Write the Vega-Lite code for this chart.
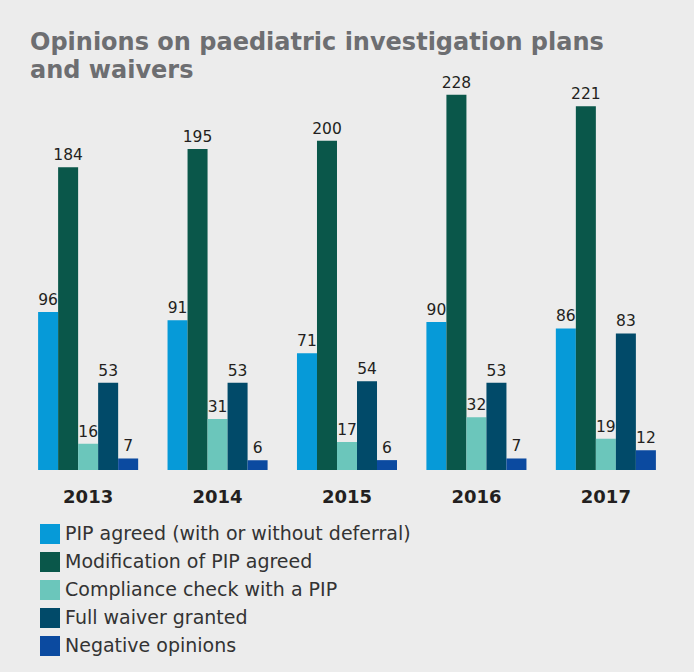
{
  "$schema": "https://vega.github.io/schema/vega-lite/v6.json",
  "width": 646,
  "height": 395,
  "autosize": {"type": "none"},
  "padding": {"left": 24, "top": 75, "right": 24, "bottom": 202},
  "background": "#ececec",
  "title": {
    "text": ["Opinions on paediatric investigation plans", "and waivers"],
    "anchor": "start",
    "frame": "group",
    "font": "DejaVu Sans",
    "fontSize": 24,
    "fontWeight": "bold",
    "color": "#6d6e71",
    "lineHeight": 28,
    "dx": 6,
    "offset": -8
  },
  "config": {"view": {"stroke": null}},
  "data": {
    "values": [
      {"year": "2013", "cat": "PIP agreed (with or without deferral)", "value": 96},
      {"year": "2013", "cat": "Modification of PIP agreed", "value": 184},
      {"year": "2013", "cat": "Compliance check with a PIP", "value": 16},
      {"year": "2013", "cat": "Full waiver granted", "value": 53},
      {"year": "2013", "cat": "Negative opinions", "value": 7},
      {"year": "2014", "cat": "PIP agreed (with or without deferral)", "value": 91},
      {"year": "2014", "cat": "Modification of PIP agreed", "value": 195},
      {"year": "2014", "cat": "Compliance check with a PIP", "value": 31},
      {"year": "2014", "cat": "Full waiver granted", "value": 53},
      {"year": "2014", "cat": "Negative opinions", "value": 6},
      {"year": "2015", "cat": "PIP agreed (with or without deferral)", "value": 71},
      {"year": "2015", "cat": "Modification of PIP agreed", "value": 200},
      {"year": "2015", "cat": "Compliance check with a PIP", "value": 17},
      {"year": "2015", "cat": "Full waiver granted", "value": 54},
      {"year": "2015", "cat": "Negative opinions", "value": 6},
      {"year": "2016", "cat": "PIP agreed (with or without deferral)", "value": 90},
      {"year": "2016", "cat": "Modification of PIP agreed", "value": 228},
      {"year": "2016", "cat": "Compliance check with a PIP", "value": 32},
      {"year": "2016", "cat": "Full waiver granted", "value": 53},
      {"year": "2016", "cat": "Negative opinions", "value": 7},
      {"year": "2017", "cat": "PIP agreed (with or without deferral)", "value": 86},
      {"year": "2017", "cat": "Modification of PIP agreed", "value": 221},
      {"year": "2017", "cat": "Compliance check with a PIP", "value": 19},
      {"year": "2017", "cat": "Full waiver granted", "value": 83},
      {"year": "2017", "cat": "Negative opinions", "value": 12}
    ]
  },
  "encoding": {
    "x": {
      "field": "year",
      "type": "nominal",
      "scale": {"paddingInner": 0.227, "paddingOuter": 0.109},
      "axis": {
        "title": null,
        "domain": false,
        "ticks": false,
        "labelAngle": 0,
        "labelFont": "DejaVu Sans",
        "labelFontSize": 18,
        "labelFontWeight": "bold",
        "labelColor": "#231f20",
        "labelPadding": 18
      }
    },
    "xOffset": {
      "field": "cat",
      "type": "nominal",
      "scale": {
        "domain": [
          "PIP agreed (with or without deferral)",
          "Modification of PIP agreed",
          "Compliance check with a PIP",
          "Full waiver granted",
          "Negative opinions"
        ],
        "paddingInner": 0,
        "paddingOuter": 0
      }
    },
    "y": {
      "field": "value",
      "type": "quantitative",
      "scale": {"domain": [0, 240], "nice": false},
      "axis": null
    }
  },
  "layer": [
    {
      "mark": {"type": "bar"},
      "encoding": {
        "color": {
          "field": "cat",
          "type": "nominal",
          "scale": {
            "domain": [
              "PIP agreed (with or without deferral)",
              "Modification of PIP agreed",
              "Compliance check with a PIP",
              "Full waiver granted",
              "Negative opinions"
            ],
            "range": ["#069ad8", "#0a574a", "#6bc6bb", "#014a69", "#0b4aa0"]
          },
          "legend": {
            "title": null,
            "orient": "none",
            "legendX": 16,
            "legendY": 449,
            "symbolType": "square",
            "symbolSize": 400,
            "symbolStrokeWidth": 0,
            "symbolOpacity": 1,
            "labelFont": "DejaVu Sans",
            "labelFontSize": 19,
            "labelColor": "#333333",
            "labelOffset": 5,
            "rowPadding": 8,
            "labelLimit": 500
          }
        }
      }
    },
    {
      "mark": {
        "type": "text",
        "baseline": "alphabetic",
        "dy": -7,
        "font": "DejaVu Sans",
        "fontSize": 15.5,
        "color": "#231f20"
      },
      "encoding": {
        "text": {"field": "value", "type": "quantitative"}
      }
    }
  ]
}
